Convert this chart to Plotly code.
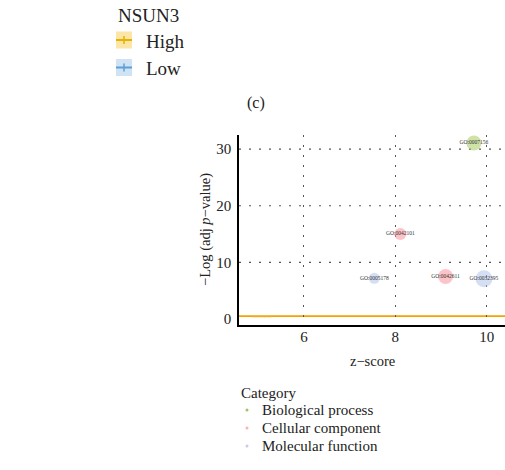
import plotly.graph_objects as go

# ---- data ----
go_ids = ["GO:0007156", "GO:0042101", "GO:0005178", "GO:0042611", "GO:0032395"]
go_category = ["Biological process", "Cellular component", "Molecular function",
               "Cellular component", "Molecular function"]
zscore = [9.72, 8.11, 7.54, 9.10, 9.94]
neglog_padj = [31.1, 15.0, 7.2, 7.5, 7.1]
gene_count = [15, 12, 11, 15, 17]
threshold = 0.5

x_ticks = [6, 8, 10]
y_ticks = [0, 10, 20, 30]
category_names = ["Biological process", "Cellular component", "Molecular function"]
group_title = "NSUN3"
group_names = ["High", "Low"]

# ---- styles ----
cat_colors = {"Biological process": "rgba(170,204,100,0.80)",
              "Cellular component": "rgba(250,140,150,0.75)",
              "Molecular function": "rgba(175,195,235,0.75)"}
cat_dot_colors = {"Biological process": "#9cc46c",
                  "Cellular component": "#f7b3b8",
                  "Molecular function": "#c5cbee"}
group_fill = ["#fbe6a8", "#cfe3f5"]
group_line = ["#e8b100", "#5b9fd6"]
FONT = "Liberation Serif"

W, H = 505, 470
L, R, T, B = 239, 505, 135, 325


def px(x):
    return (x - L) / (R - L)


def py(y):
    return (B - y) / (B - T)


def text_ann(x, y, text, size, xanchor="center", angle=0, color="#222"):
    return dict(x=px(x), y=py(y), xref="paper", yref="paper", text=text,
                xanchor=xanchor, yanchor="middle", textangle=angle,
                showarrow=False, font=dict(family=FONT, size=size, color=color))


fig = go.Figure()

for cat in category_names:
    idx = [i for i, c in enumerate(go_category) if c == cat]
    fig.add_trace(go.Scatter(
        x=[zscore[i] for i in idx],
        y=[neglog_padj[i] for i in idx],
        text=[go_ids[i] for i in idx],
        mode="markers+text",
        textposition="middle center",
        textfont=dict(family=FONT, size=5.5, color="#333"),
        marker=dict(size=[gene_count[i] for i in idx], sizemode="diameter",
                    color=cat_colors[cat], line=dict(width=0)),
        showlegend=False, cliponaxis=False,
    ))

# threshold line
fig.add_hline(y=threshold, line=dict(color="#f5a300", width=1.6), layer="below")
fig.add_annotation(x=5.08, y=threshold, text="Threshold", showarrow=False,
                   xanchor="center", yanchor="middle",
                   font=dict(family=FONT, size=5, color="rgba(240,190,90,0.8)"))

# horizontal grid lines
for v in y_ticks:
    if v > 0:
        fig.add_hline(y=v, line=dict(color="#555", width=1.2, dash="2px,8px"), layer="below")

fig.update_xaxes(range=[4.58, 10.40], tickvals=x_ticks, showgrid=True,
                 gridcolor="#555", gridwidth=1.2, griddash="2px,8px",
                 zeroline=False, showline=True, linecolor="black", linewidth=1.5,
                 ticks="", ticklabelstandoff=-3,
                 tickfont=dict(family=FONT, size=15, color="#222"))
fig.update_yaxes(range=[-1.06, 32.5], tickvals=y_ticks, showgrid=False,
                 zeroline=False, showline=True, linecolor="black", linewidth=1.5,
                 ticks="", ticklabelstandoff=3,
                 tickfont=dict(family=FONT, size=15, color="#222"))

ann = []
# axis titles
ann.append(text_ann(372, 361, "z−score", 14.5))
ann.append(text_ann(205, 230, "−Log (adj <i>p</i>−value)", 14.5, angle=-90))
# panel label
ann.append(text_ann(256, 103, "(c)", 16))

shapes = []
# NSUN3 legend
ann.append(text_ann(116, 15, group_title, 19, xanchor="left"))
for k, name in enumerate(group_names):
    cy = 40 + 27.5 * k
    shapes.append(dict(type="rect", xref="paper", yref="paper",
                       x0=px(116), x1=px(132), y0=py(cy - 8.5), y1=py(cy + 8.5),
                       fillcolor=group_fill[k], line=dict(width=0)))
    shapes.append(dict(type="line", xref="paper", yref="paper",
                       x0=px(116), x1=px(132), y0=py(cy), y1=py(cy),
                       line=dict(color=group_line[k], width=2)))
    shapes.append(dict(type="line", xref="paper", yref="paper",
                       x0=px(124), x1=px(124), y0=py(cy - 4), y1=py(cy + 4),
                       line=dict(color=group_line[k], width=1.5)))
    ann.append(text_ann(144, cy + 1, name, 19, xanchor="left"))

# Category legend
ann.append(text_ann(239, 393, "Category", 15, xanchor="left"))
for k, cat in enumerate(category_names):
    cy = 410 + 18 * k
    shapes.append(dict(type="circle", xref="paper", yref="paper",
                       x0=px(245.5), x1=px(248.5), y0=py(cy - 1.5), y1=py(cy + 1.5),
                       fillcolor=cat_dot_colors[cat], line=dict(width=0)))
    ann.append(text_ann(260, cy, cat, 15, xanchor="left"))

fig.update_layout(
    width=W, height=H,
    margin=dict(l=L, r=W - R, t=T, b=H - B),
    paper_bgcolor="white", plot_bgcolor="white",
    annotations=list(fig.layout.annotations) + ann,
    shapes=list(fig.layout.shapes) + shapes,
    showlegend=False,
    font=dict(family=FONT),
)

fig.write_html("out.html")
